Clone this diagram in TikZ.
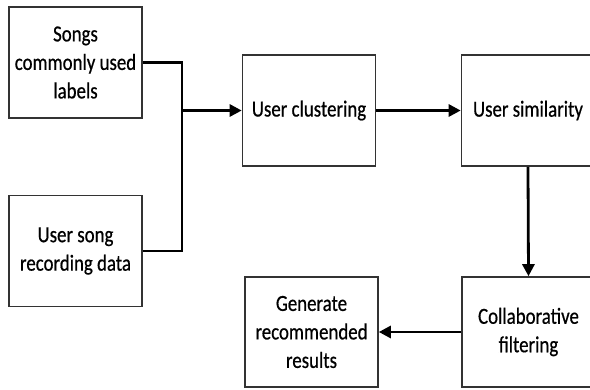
\documentclass[tikz,border=0pt]{standalone}
\usepackage{fontspec}
\setmainfont[FakeStretch=0.82,FakeBold=0.6]{Carlito}
\usetikzlibrary{arrows.meta}
\begin{document}
\begin{tikzpicture}[x=1pt,y=-1pt,
  box/.style={draw=black!80, line width=1.6pt, fill=white, inner sep=0pt,
    minimum width=133pt, minimum height=111pt, align=center,
    font=\fontsize{23}{28.5}\selectfont},
  conn/.style={line width=2.8pt, black},
  arr/.style={conn, -{Triangle[length=12pt,width=12pt]}}]
\clip (0,0) rectangle (590,389);
\fill[white] (0,0) rectangle (590,389);
\node[box] (A) at (75.5,62.5) {Songs\\commonly used\\labels};
\node[box] (B) at (75.5,251) {User song\\recording data};
\node[box] (C) at (309,110.5) {User clustering};
\node[box] (D) at (528,110.5) {User similarity};
\node[box, minimum height=110pt] (E) at (528.5,332) {Collaborative\\filtering};
\node[box, minimum height=110pt] (F) at (311.5,332) {Generate\\recommended\\results};
\coordinate (J) at (182,110.5);
\draw[conn] (A.east) -| (J) |- (B.east);
\draw[arr] (J) -- (C.west);
\draw[arr] (C.east) -- (D.west);
\draw[arr] (D.south) -- (E.north);
\draw[arr] (E.west) -- (F.east);
\end{tikzpicture}
\end{document}
